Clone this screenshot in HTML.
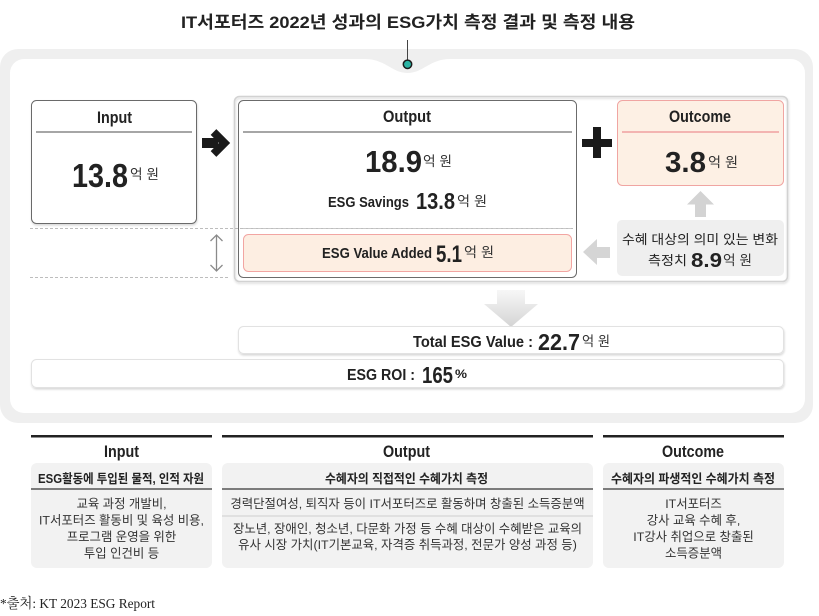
<!DOCTYPE html>
<html><head><meta charset="utf-8">
<style>
*{margin:0;padding:0}
body{width:819px;height:616px;background:#fff;overflow:hidden}
svg{display:block}
.t{font-family:"Liberation Sans","Noto Sans CJK KR",sans-serif;fill:#222}
.b{font-weight:bold}
.u{font-size:13.5px;fill:#333}
.bd{font-size:12.4px;fill:#333}
</style></head>
<body>
<svg width="819" height="616" viewBox="0 0 819 616" xmlns="http://www.w3.org/2000/svg">
<defs>
<filter id="sh" x="-5%" y="-20%" width="110%" height="150%"><feDropShadow dx="0.5" dy="1.5" stdDeviation="1" flood-color="#000" flood-opacity="0.16"/></filter>
<linearGradient id="dg" x1="0" y1="0" x2="0" y2="1"><stop offset="0" stop-color="#f7f7f7"/><stop offset="1" stop-color="#d4d4d4"/></linearGradient>
</defs>

<!-- Title -->
<text class="t b" x="181" y="28" font-size="17" textLength="454" lengthAdjust="spacingAndGlyphs">IT서포터즈 2022년 성과의 ESG가치 측정 결과 및 측정 내용</text>

<!-- Outer frame -->
<rect x="0" y="49" width="813" height="374" rx="18" fill="#efefef"/>
<rect x="10" y="59" width="795" height="354" rx="14" fill="#fff"/>
<path d="M365 59 C385 59 392 73 407.5 73 C423 73 430 59 450 59 Z" fill="#efefef"/>
<line x1="407.5" y1="40" x2="407.5" y2="61" stroke="#444" stroke-width="1"/>
<circle cx="407.5" cy="64.3" r="4.2" fill="#2bb3a3" stroke="#1a1a1a" stroke-width="1.5"/>

<!-- Dashed guide lines -->
<line x1="30" y1="228.5" x2="573" y2="228.5" stroke="#bdbdbd" stroke-width="1" stroke-dasharray="3 2"/>
<line x1="30" y1="277.5" x2="229" y2="277.5" stroke="#bdbdbd" stroke-width="1" stroke-dasharray="3 2"/>

<!-- Input box -->
<rect x="31.5" y="100.5" width="165" height="123" rx="5" fill="#fff" stroke="#6b6b6b" filter="url(#sh)"/>
<line x1="36" y1="132" x2="192" y2="132" stroke="#888" stroke-width="1.5"/>
<text class="t b" x="97" y="123" font-size="17" textLength="35" lengthAdjust="spacingAndGlyphs">Input</text>
<text class="t b" x="72" y="187" font-size="33" textLength="56" lengthAdjust="spacingAndGlyphs">13.8</text>
<text class="t u" x="130" y="179" textLength="29" lengthAdjust="spacingAndGlyphs">억 원</text>

<!-- black arrow -->
<rect x="202" y="138" width="16" height="10" fill="#1a1a1a"/>
<polyline points="213.5,132 224.5,143 213.5,154" fill="none" stroke="#1a1a1a" stroke-width="8" stroke-linejoin="miter"/>

<!-- Output group -->
<rect x="234.5" y="96.5" width="553" height="185" rx="5" fill="none" stroke="#d2d2d2" stroke-width="1.5" filter="url(#sh)"/>
<rect x="238.5" y="100.5" width="338" height="177" rx="5" fill="none" stroke="#6b6b6b"/>
<line x1="243" y1="132" x2="572" y2="132" stroke="#888" stroke-width="1.5"/>
<line x1="243" y1="228.5" x2="572" y2="228.5" stroke="#c8c8c8" stroke-width="1" stroke-dasharray="3 2"/>
<text class="t b" x="383" y="122" font-size="17" textLength="48" lengthAdjust="spacingAndGlyphs">Output</text>
<text class="t b" x="365" y="172" font-size="31" textLength="57" lengthAdjust="spacingAndGlyphs">18.9</text>
<text class="t u" x="423" y="166" textLength="29" lengthAdjust="spacingAndGlyphs">억 원</text>
<text class="t b" x="328" y="207" font-size="15" textLength="81" lengthAdjust="spacingAndGlyphs">ESG Savings</text>
<text class="t b" x="416" y="209" font-size="23" textLength="39" lengthAdjust="spacingAndGlyphs">13.8</text>
<text class="t u" x="457" y="206" textLength="30" lengthAdjust="spacingAndGlyphs">억 원</text>

<!-- ESG Value Added -->
<rect x="243.5" y="234.5" width="328" height="37" rx="5" fill="#fdeee2" stroke="#f2a5a2"/>
<text class="t b" x="322" y="258" font-size="15" textLength="110" lengthAdjust="spacingAndGlyphs">ESG Value Added</text>
<text class="t b" x="436" y="262" font-size="24" textLength="26" lengthAdjust="spacingAndGlyphs">5.1</text>
<text class="t u" x="464" y="257" textLength="30" lengthAdjust="spacingAndGlyphs">억 원</text>

<!-- Plus -->
<rect x="593" y="127" width="8" height="31" fill="#1a1a1a"/>
<rect x="582" y="139" width="30" height="8" fill="#1a1a1a"/>

<!-- Outcome -->
<rect x="617.5" y="100.5" width="166" height="85" rx="5" fill="#fdf0e4" stroke="#f0a5a2"/>
<line x1="622" y1="132" x2="779" y2="132" stroke="#f0a0a0" stroke-width="1.5"/>
<text class="t b" x="669" y="122" font-size="17" textLength="62" lengthAdjust="spacingAndGlyphs">Outcome</text>
<text class="t b" x="665" y="172" font-size="29" textLength="41" lengthAdjust="spacingAndGlyphs">3.8</text>
<text class="t u" x="708" y="167" textLength="30" lengthAdjust="spacingAndGlyphs">억 원</text>

<!-- up arrow gray -->
<polygon points="700.5,191 714,204.5 706,204.5 706,217 695,217 695,204.5 687,204.5" fill="#d3d3d3"/>

<!-- gray measure box -->
<rect x="617" y="220" width="167" height="56" rx="5" fill="#efefef"/>
<text class="t" x="622" y="244" font-size="13" fill="#333" textLength="156" lengthAdjust="spacingAndGlyphs">수혜 대상의 의미 있는 변화</text>
<text class="t" x="648" y="265" font-size="13" fill="#333" textLength="39" lengthAdjust="spacingAndGlyphs">측정치</text>
<text class="t b" x="691" y="267" font-size="20" textLength="31" lengthAdjust="spacingAndGlyphs">8.9</text>
<text class="t u" x="723" y="265" textLength="29" lengthAdjust="spacingAndGlyphs">억 원</text>

<!-- left arrow gray -->
<polygon points="583,252 597,239 597,247 610,247 610,258 597,258 597,265" fill="#d5d5d5"/>

<!-- double arrow -->
<g stroke="#8a8a8a" stroke-width="1.3" fill="none">
<line x1="216.5" y1="235" x2="216.5" y2="271"/>
<polyline points="210.5,241 216.5,235 222.5,241"/>
<polyline points="210.5,265 216.5,271 222.5,265"/>
</g>

<!-- down arrow -->
<polygon points="497,290 525,290 525,304 538,304 511,327 484,304 497,304" fill="url(#dg)"/>

<!-- Total ESG Value -->
<rect x="238.5" y="326.5" width="545" height="27" rx="5" fill="#fff" stroke="#e2e2e2" filter="url(#sh)"/>
<text class="t b" x="413" y="347" font-size="16" textLength="120" lengthAdjust="spacingAndGlyphs">Total ESG Value :</text>
<text class="t b" x="538" y="350" font-size="23" textLength="42" lengthAdjust="spacingAndGlyphs">22.7</text>
<text class="t u" x="582" y="346" textLength="28" lengthAdjust="spacingAndGlyphs">억 원</text>

<!-- ESG ROI -->
<rect x="31.5" y="359.5" width="752" height="28" rx="5" fill="#fff" stroke="#e2e2e2" filter="url(#sh)"/>
<text class="t b" x="347" y="380" font-size="16" textLength="68" lengthAdjust="spacingAndGlyphs">ESG ROI :</text>
<text class="t b" x="422" y="383" font-size="23" textLength="31" lengthAdjust="spacingAndGlyphs">165</text>
<text class="t b" x="455" y="378" font-size="12" textLength="12" lengthAdjust="spacingAndGlyphs">%</text>

<!-- Bottom table -->
<rect x="31" y="435" width="181" height="2.5" fill="#222"/>
<rect x="222" y="435" width="371" height="2.5" fill="#222"/>
<rect x="603" y="435" width="181" height="2.5" fill="#222"/>

<text class="t b" x="104" y="457" font-size="17" textLength="35" lengthAdjust="spacingAndGlyphs">Input</text>
<text class="t b" x="383" y="457" font-size="17" textLength="47" lengthAdjust="spacingAndGlyphs">Output</text>
<text class="t b" x="662" y="457" font-size="17" textLength="62" lengthAdjust="spacingAndGlyphs">Outcome</text>

<rect x="31" y="463" width="181" height="105" rx="6" fill="#f2f2f2"/>
<rect x="222" y="463" width="371" height="105" rx="6" fill="#f2f2f2"/>
<rect x="603" y="463" width="181" height="105" rx="6" fill="#f2f2f2"/>

<line x1="31" y1="489" x2="212" y2="489" stroke="#555" stroke-width="1.5"/>
<line x1="222" y1="489" x2="593" y2="489" stroke="#555" stroke-width="1.5"/>
<line x1="603" y1="489" x2="784" y2="489" stroke="#555" stroke-width="1.5"/>
<line x1="222" y1="516" x2="593" y2="516" stroke="#cfcfcf" stroke-width="1"/>

<text class="t b" x="38" y="483" font-size="12.5" textLength="166" lengthAdjust="spacingAndGlyphs">ESG활동에 투입된 물적, 인적 자원</text>
<text class="t b" x="325" y="483" font-size="12.5" textLength="163" lengthAdjust="spacingAndGlyphs">수혜자의 직접적인 수혜가치 측정</text>
<text class="t b" x="611" y="483" font-size="12.5" textLength="164" lengthAdjust="spacingAndGlyphs">수혜자의 파생적인 수혜가치 측정</text>

<g text-anchor="middle">
<text class="t bd" x="121.5" y="508">교육 과정 개발비,</text>
<text class="t bd" x="121.5" y="524.5">IT서포터즈 활동비 및 육성 비용,</text>
<text class="t bd" x="121.5" y="541">프로그램 운영을 위한</text>
<text class="t bd" x="121.5" y="557.5">투입 인건비 등</text>

<text class="t bd" x="407.5" y="508">경력단절여성, 퇴직자 등이 IT서포터즈로 활동하며 창출된 소득증분액</text>
<text class="t bd" x="407.5" y="533">장노년, 장애인, 청소년, 다문화 가정 등 수혜 대상이 수혜받은 교육의</text>
<text class="t bd" x="407.5" y="549">유사 시장 가치(IT기본교육, 자격증 취득과정, 전문가 양성 과정 등)</text>

<text class="t bd" x="693.5" y="508">IT서포터즈</text>
<text class="t bd" x="693.5" y="524.5">강사 교육 수혜 후,</text>
<text class="t bd" x="693.5" y="541">IT강사 취업으로 창출된</text>
<text class="t bd" x="693.5" y="557.5">소득증분액</text>
</g>

<!-- Footer -->
<text x="0" y="608" font-family="'Liberation Serif','Noto Serif CJK SC',serif" font-size="14" fill="#222" textLength="155" lengthAdjust="spacingAndGlyphs">*출처: KT 2023 ESG Report</text>
</svg>
</body></html>
